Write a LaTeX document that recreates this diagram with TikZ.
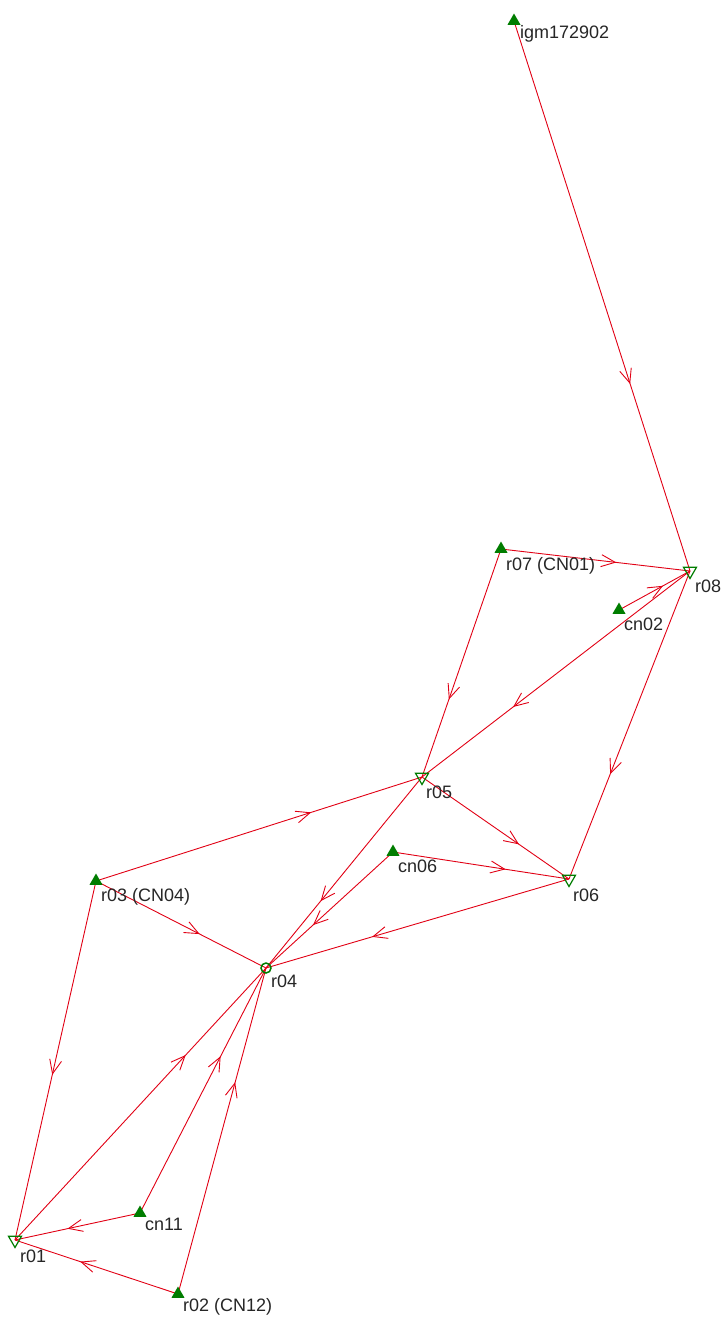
\documentclass[tikz,border=0pt]{standalone}
\usepackage{fontspec}
\setmainfont{Liberation Sans}
\usetikzlibrary{shapes.geometric,arrows.meta,decorations.markings,backgrounds}
\definecolor{stngreen}{RGB}{0,125,0}
\definecolor{linkred}{RGB}{225,0,20}
\tikzstyle{cntl} = [regular polygon, regular polygon sides=3, minimum size=15pt, inner sep=0pt, fill=stngreen]
\tikzstyle{sink} = [regular polygon, regular polygon sides=3, shape border rotate=180, minimum size=15pt, inner sep=0pt, draw=stngreen, line width=1.2pt]
\tikzstyle{hub} = [circle, minimum size=10pt, inner sep=0pt, draw=stngreen, line width=1.5pt]
\tikzstyle{tag} = [anchor=base west, inner sep=0pt, text=black!85, font=\fontsize{18}{20}\selectfont]
\tikzset{flow/.style={draw=linkred, line width=0.9pt, postaction={decorate}, decoration={markings, mark=at position #1 with {\arrow{Straight Barb[length=14pt,width=12pt]}}}}, flow/.default=0.64}
\begin{document}
\begin{tikzpicture}[x=1pt,y=-1pt]
  \useasboundingbox (0,0) rectangle (724,1320);
  \node[cntl] (igm) at (514,21) {};
  \node[cntl] (r07) at (501,549) {};
  \node[sink] (r08) at (690,571) {};
  \node[cntl] (cn02) at (619,610) {};
  \node[sink] (r05) at (422,777) {};
  \node[cntl] (cn06) at (393,852) {};
  \node[sink] (r06) at (569,879) {};
  \node[cntl] (r03) at (96,881) {};
  \node[hub] (r04) at (266,968) {};
  \node[sink] (r01) at (15,1240) {};
  \node[cntl] (cn11) at (140,1213) {};
  \node[cntl] (r02) at (178,1294) {};
  \node[tag] at ([shift={(6,17)}]igm.center) {igm172902};
  \node[tag] at ([shift={(5,21)}]r07.center) {r07 (CN01)};
  \node[tag] at ([shift={(5,21)}]r08.center) {r08};
  \node[tag] at ([shift={(5,20)}]cn02.center) {cn02};
  \node[tag] at ([shift={(4,21)}]r05.center) {r05};
  \node[tag] at ([shift={(5,20)}]cn06.center) {cn06};
  \node[tag] at ([shift={(4,22)}]r06.center) {r06};
  \node[tag] at ([shift={(5,20)}]r03.center) {r03 (CN04)};
  \node[tag] at ([shift={(5,19)}]r04.center) {r04};
  \node[tag] at ([shift={(5,22)}]r01.center) {r01};
  \node[tag] at ([shift={(5,17)}]cn11.center) {cn11};
  \node[tag] at ([shift={(5,17)}]r02.center) {r02 (CN12)};
  \begin{scope}[on background layer]
    \draw[flow=0.66] (igm.center) -- (r08.center);
    \draw[flow=0.61] (r07.center) -- (r08.center);
    \draw[flow=0.62] (cn02.center) -- (r08.center);
    \draw[flow=0.66] (r08.center) -- (r05.center);
    \draw[flow=0.66] (r07.center) -- (r05.center);
    \draw[flow=0.66] (r08.center) -- (r06.center);
    \draw[flow=0.66] (r05.center) -- (r06.center);
    \draw[flow=0.64] (cn06.center) -- (r06.center);
    \draw[flow=0.66] (r03.center) -- (r05.center);
    \draw[flow=0.61] (r03.center) -- (r04.center);
    \draw[flow=0.65] (r06.center) -- (r04.center);
    \draw[flow=0.65] (r05.center) -- (r04.center);
    \draw[flow=0.63] (cn06.center) -- (r04.center);
    \draw[flow=0.54] (r03.center) -- (r01.center);
    \draw[flow=0.68] (r01.center) -- (r04.center);
    \draw[flow=0.64] (cn11.center) -- (r04.center);
    \draw[flow=0.65] (r02.center) -- (r04.center);
    \draw[flow=0.58] (cn11.center) -- (r01.center);
    \draw[flow=0.60] (r02.center) -- (r01.center);
  \end{scope}
\end{tikzpicture}
\end{document}
